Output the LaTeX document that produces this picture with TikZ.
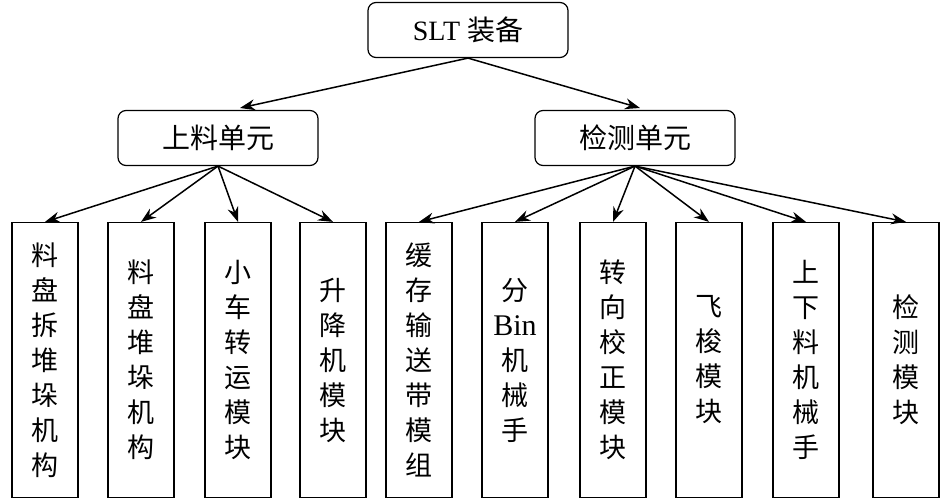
\documentclass[tikz,border=0pt]{standalone}
\usepackage{fontspec}
\setmainfont{Liberation Serif}
\newfontfamily\cjk{Noto Sans CJK SC}
\usetikzlibrary{positioning,arrows.meta}
\tikzset{
  unit/.style={draw,line width=1.2pt,rounded corners=8pt,minimum width=200pt,minimum height=55pt,font=\fontsize{28}{34}\selectfont},
  leaf/.style={draw,line width=1.2pt,minimum width=66pt,minimum height=275pt,align=center,font=\fontsize{27}{35}\selectfont\cjk,inner sep=0pt},
  link/.style={line width=1.5pt,-{Stealth[length=15pt,width=11pt]}}
}
\begin{document}
\begin{tikzpicture}[x=1pt,y=-1pt]
    \useasboundingbox (0,0) rectangle (952,500);
    % Top and middle levels
    \node[unit] (slt) at (468,30) {SLT {\cjk 装备}};
    \node[unit] (feed) at (218,138) {\cjk 上料单元};
    \node[unit] (test) at (635,138) {\cjk 检测单元};
    \draw[link] (slt.south) -- (240,108);
    \draw[link] (slt.south) -- (640,108);
    % Leaves
    \foreach \n/\x/\txt in {
        a/45/料\\盘\\拆\\堆\\垛\\机\\构,
        b/141/料\\盘\\堆\\垛\\机\\构,
        c/238/小\\车\\转\\运\\模\\块,
        d/333/升\\降\\机\\模\\块} {
        \node[leaf] (\n) at (\x,360) {\txt};
        \draw[link] (feed.south) -- (\n.north);
    }
    \foreach \n/\x/\txt in {
        e/419/缓\\存\\输\\送\\带\\模\\组,
        f/515/分\\{\rmfamily\fontsize{30}{35}\selectfont Bin}\\机\\械\\手,
        g/613/转\\向\\校\\正\\模\\块,
        h/709/飞\\梭\\模\\块,
        i/806/上\\下\\料\\机\\械\\手,
        j/906/检\\测\\模\\块} {
        \node[leaf] (\n) at (\x,360) {\txt};
        \draw[link] (test.south) -- (\n.north);
    }
\end{tikzpicture}
\end{document}
